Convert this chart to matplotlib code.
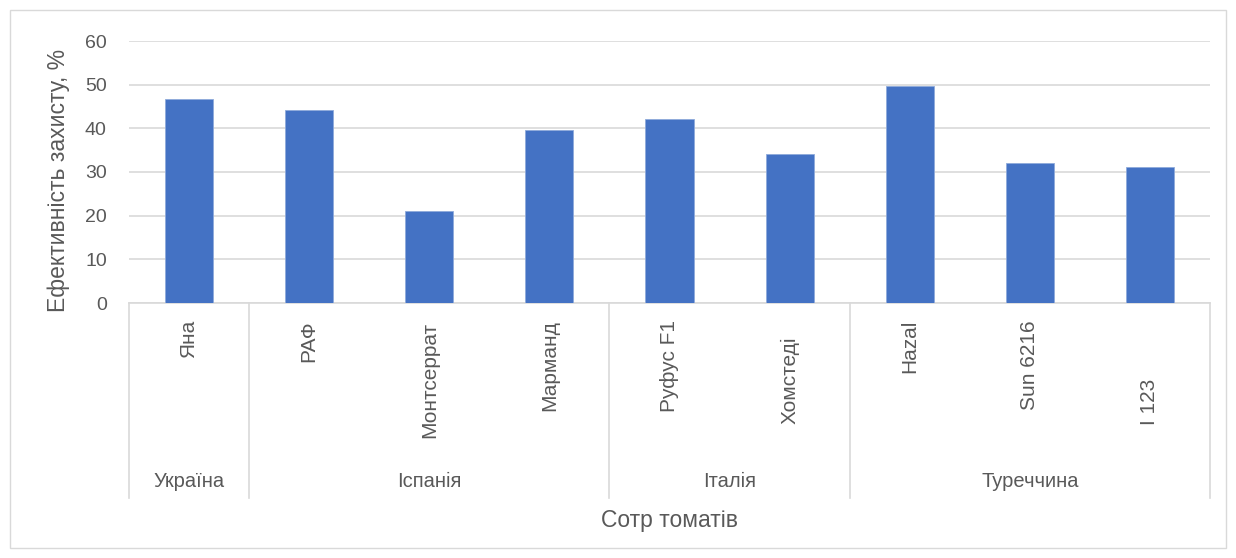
import matplotlib.pyplot as plt
from matplotlib.patches import Rectangle
from matplotlib.transforms import blended_transform_factory

plt.rcParams['font.family'] = ['Liberation Sans', 'DejaVu Sans']

varieties = ['Яна', 'РАФ', 'Монтсеррат', 'Марманд', 'Руфус F1', 'Хомстеді',
             'Hazal', 'Sun 6216', 'I 123']
efficiency = [46.7, 44.1, 21.0, 39.7, 42.2, 34.1, 49.7, 32.0, 31.2]
countries = ['Україна', 'Іспанія', 'Італія', 'Туреччина']
group_sizes = [1, 3, 2, 3]

# extra downward shift (px) of some variety names under the axis
label_drop = [0, 0, 2, 0, 0, 16, 0, 0, 59]

text_color = '#595959'
grid_color = '#d9d9d9'
bar_color = '#4472c4'

W, H = 1236, 558
fig = plt.figure(figsize=(W / 100, H / 100), dpi=100)
ax = fig.add_axes([129 / W, 1 - 303 / H, (1210 - 129) / W, (303 - 41) / H])

x = list(range(len(varieties)))
ax.bar(x, efficiency, width=0.4, color=bar_color, edgecolor='#8eaadb',
       linewidth=0.6, zorder=3)

ax.set_xlim(-0.5, len(varieties) - 0.5)
ax.set_ylim(0, 60)
ax.set_yticks(range(0, 61, 10))
ax.yaxis.grid(True, color=grid_color, linewidth=1.2, zorder=0)
for side in ['top', 'right', 'left']:
    ax.spines[side].set_visible(False)
ax.spines['bottom'].set_color(grid_color)
ax.spines['bottom'].set_linewidth(1.2)
ax.tick_params(axis='y', length=0, labelsize=14, labelcolor=text_color, pad=16)
ax.set_xticks([])

# variety names, rotated, hanging below the axis
for i, name in enumerate(varieties):
    ax.annotate(name, xy=(i, 0), xycoords='data',
                xytext=(0, -17 - label_drop[i]), textcoords='offset pixels',
                rotation=90, ha='center', va='top', fontsize=15,
                color=text_color, annotation_clip=False)

# group separators and country labels
trans = blended_transform_factory(ax.transData, ax.transAxes)
bottom = -0.743
edges = [-0.5]
for n in group_sizes:
    edges.append(edges[-1] + n)
for e in edges:
    ax.plot([e, e], [0, bottom], transform=trans, color=grid_color,
            linewidth=1.2, clip_on=False)
for i, name in enumerate(countries):
    mid = (edges[i] + edges[i + 1]) / 2
    ax.text(mid, -0.683, name, transform=trans, ha='center', va='center',
            fontsize=14.5, color=text_color)

ax.set_ylabel('Ефективність захисту, %', fontsize=16.5, color=text_color)
ax.yaxis.set_label_coords(-0.055, 0.466)
fig.text((129 + 1210) / 2 / W, 1 - 521 / H, 'Сотр томатів', ha='center',
         va='center', fontsize=16.5, color=text_color)

fig.patches.append(Rectangle((10 / W, 1 - 548 / H), 1216 / W, 538 / H,
                             transform=fig.transFigure, fill=False,
                             edgecolor=grid_color, linewidth=1))

fig.savefig('out.png', dpi=100)
